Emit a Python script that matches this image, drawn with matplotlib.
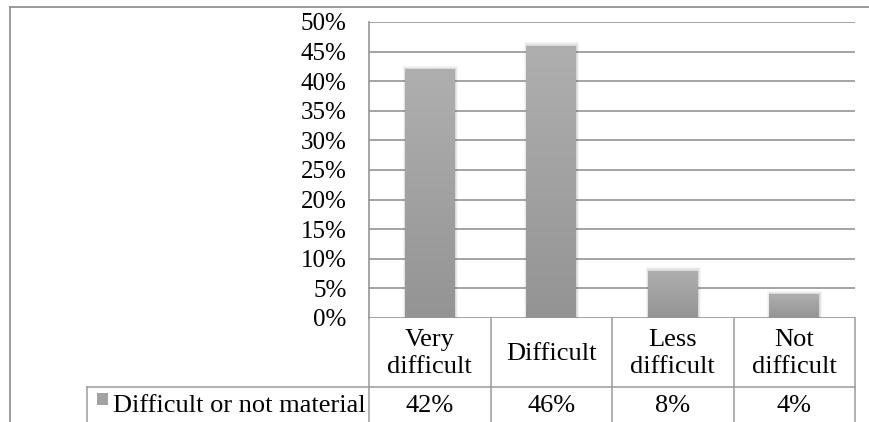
import numpy as np
import matplotlib
matplotlib.use("Agg")
import matplotlib.pyplot as plt
from matplotlib.colors import LinearSegmentedColormap
from matplotlib.patches import Rectangle

# chart data
categories = ["Very\ndifficult", "Difficult", "Less\ndifficult", "Not\ndifficult"]
values = [0.42, 0.46, 0.08, 0.04]
value_labels = ["42%", "46%", "8%", "4%"]
series_name = "Difficult or not material"
y_ticks = [0.0, 0.05, 0.10, 0.15, 0.20, 0.25, 0.30, 0.35, 0.40, 0.45, 0.50]

plt.rcParams['font.family'] = ['Liberation Serif', 'DejaVu Serif']
FS_TICK = 18
FS = 19
W, H = 869, 422
line_col = "#8c8c8c"

fig = plt.figure(figsize=(W / 100, H / 100), dpi=100)

# outer chart frame (top and left edge visible)
fig.add_artist(plt.Line2D([10 / W, 1.0], [1 - 6.5 / H, 1 - 6.5 / H],
                          color="#8a8a8a", lw=1.2, transform=fig.transFigure))
fig.add_artist(plt.Line2D([10 / W, 10 / W], [0, 1 - 6.5 / H],
                          color="#8a8a8a", lw=1.2, transform=fig.transFigure))

# plot area
ax = fig.add_axes([369 / W, 1 - 318 / H, (855 - 369) / W, (318 - 22) / H])
x = np.arange(len(values))
bar_w = 0.41

# soft shadow behind bars
for k in range(1, 5):
    ax.bar(x + 0.004, np.array(values) + 0.0015 * k, width=bar_w + 0.01 * k,
           color="#404040", alpha=0.05, zorder=2, linewidth=0)

bars = ax.bar(x, values, width=bar_w, color="#a6a6a6", zorder=3, linewidth=0)

# vertical gradient fill for each bar
cmap = LinearSegmentedColormap.from_list("g", ["#949494", "#afafaf"])
grad = np.linspace(0, 1, 100).reshape(-1, 1)
for b in bars:
    x0 = b.get_x()
    x1 = x0 + b.get_width()
    h = b.get_height()
    im = ax.imshow(grad, extent=[x0, x1, 0, h], origin="lower", aspect="auto",
                   cmap=cmap, zorder=4)
    im.set_clip_path(b)

ax.set_xlim(-0.5, len(values) - 0.5)
ax.set_ylim(0, 0.5)
ax.set_yticks(y_ticks)
ax.set_yticklabels([str(int(round(v * 100))) + "%" for v in y_ticks], fontsize=FS_TICK)
ax.tick_params(axis="y", length=0, pad=16)
ax.set_xticks([])
ax.grid(axis="y", color=line_col, lw=1.1, zorder=0)
ax.set_axisbelow(True)
for s in ["top", "right", "bottom"]:
    ax.spines[s].set_visible(False)
ax.spines["left"].set_color(line_col)
ax.spines["left"].set_linewidth(1.1)

# data table below the plot
tab = fig.add_axes([369 / W, 1 - 425 / H, (855 - 369) / W, (425 - 318) / H])
tab.set_xlim(-0.5, len(values) - 0.5)
tab.set_ylim(1, 0)
tab.axis("off")
row_split = 69 / 107
label_left = -0.5 - (369 - 87) / 121.5
tcol = "#9a9a9a"

for i in range(len(values) + 1):
    tab.plot([i - 0.5, i - 0.5], [0, 1], color=tcol, lw=1.1, clip_on=False)
tab.plot([label_left, len(values) - 0.5], [row_split, row_split],
         color=tcol, lw=1.1, clip_on=False)
tab.plot([label_left, label_left], [row_split, 1.05], color=tcol, lw=1.1, clip_on=False)

for i, c in enumerate(categories):
    tab.text(i, row_split / 2 + 0.01, c, ha="center", va="center", fontsize=FS,
             linespacing=1.3)
    tab.text(i, (row_split + 1) / 2, value_labels[i], ha="center", va="center",
             fontsize=FS)

# legend key and series name
key_x = -0.5 - (369 - 97) / 121.5
tab.add_patch(Rectangle((key_x, row_split + 6 / 107), 11 / 121.5, 12 / 107,
                        facecolor="#a2a2a2", edgecolor="none", clip_on=False))
tab.text(-0.5 - (369 - 113) / 121.5, (row_split + 1) / 2, series_name,
         ha="left", va="center", fontsize=FS)

plt.savefig("out.png", dpi=100)
